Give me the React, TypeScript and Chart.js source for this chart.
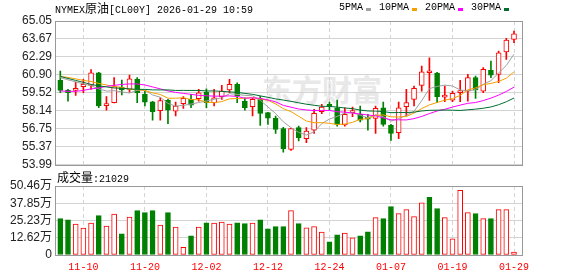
import React, { useEffect, useRef } from "react";
import { Chart, registerables } from "chart.js";

Chart.register(...registerables);

// ---------- data ----------
const dates = [
  "11-05", "11-06", "11-07", "11-10", "11-11", "11-12", "11-13", "11-14", "11-17", "11-18",
  "11-19", "11-20", "11-21", "11-24", "11-25", "11-26", "11-27", "11-28", "12-01", "12-02",
  "12-03", "12-04", "12-05", "12-08", "12-09", "12-10", "12-11", "12-12", "12-15", "12-16",
  "12-17", "12-18", "12-19", "12-22", "12-23", "12-24", "12-26", "12-29", "12-30", "12-31",
  "01-02", "01-05", "01-06", "01-07", "01-08", "01-09", "01-12", "01-13", "01-14", "01-15",
  "01-16", "01-19", "01-20", "01-21", "01-22", "01-23", "01-26", "01-27", "01-28", "01-29",
];

const opens = [
  60.48, 59.71, 59.71, 59.99, 60.10, 61.07, 58.54, 58.77, 59.94, 59.79,
  60.56, 59.41, 58.84, 58.15, 58.94, 58.12, 58.69, 59.02, 59.07, 59.58,
  58.77, 59.23, 59.74, 60.17, 58.89, 58.46, 59.07, 58.00, 57.56, 56.77,
  55.18, 56.85, 56.00, 56.66, 58.08, 58.53, 58.38, 57.05, 58.00, 57.87,
  57.61, 57.56, 58.38, 57.02, 56.46, 58.46, 59.02, 60.10, 61.07, 61.02,
  59.20, 58.97, 59.54, 59.66, 60.69, 59.66, 61.25, 60.94, 62.68, 63.63,
];
const highs = [
  61.19, 59.79, 60.35, 60.56, 61.32, 61.10, 59.23, 60.69, 60.51, 60.89,
  60.69, 59.66, 58.87, 59.15, 59.02, 58.81, 59.23, 59.41, 59.79, 59.84,
  59.79, 60.10, 60.56, 60.30, 59.15, 59.15, 59.27, 58.02, 57.74, 56.87,
  56.80, 56.97, 56.85, 58.25, 58.64, 58.81, 58.97, 58.38, 58.43, 58.51,
  57.87, 58.51, 58.81, 57.10, 58.81, 59.79, 60.04, 61.58, 62.22, 61.10,
  60.04, 59.66, 60.48, 60.94, 60.81, 61.46, 61.96, 62.73, 63.71, 64.27,
];
const lows = [
  59.54, 58.89, 59.33, 59.54, 59.79, 58.38, 58.20, 58.75, 59.36, 59.58,
  58.77, 58.51, 57.43, 57.43, 57.16, 57.74, 58.33, 58.38, 58.89, 58.38,
  58.51, 59.02, 59.54, 58.77, 58.20, 57.74, 57.02, 57.10, 56.41, 54.97,
  55.10, 55.82, 55.70, 56.41, 57.92, 58.20, 56.97, 56.97, 57.69, 57.28,
  56.66, 56.41, 56.97, 55.87, 56.00, 57.74, 58.51, 59.66, 58.94, 58.77,
  58.84, 58.84, 58.84, 58.89, 59.10, 59.54, 60.69, 60.30, 62.09, 63.38,
];
const closes = [
  59.71, 59.54, 59.84, 60.17, 61.07, 58.51, 58.69, 60.00, 59.75, 60.61,
  59.54, 58.81, 58.08, 58.92, 58.20, 58.51, 59.10, 58.58, 59.53, 58.77,
  59.15, 59.66, 60.17, 59.27, 58.38, 59.02, 57.95, 57.58, 56.72, 55.24,
  56.77, 56.08, 56.59, 57.95, 58.43, 58.48, 57.10, 57.87, 58.12, 57.43,
  57.49, 58.33, 57.10, 56.41, 58.38, 58.77, 59.87, 61.15, 61.07, 59.23,
  59.30, 59.48, 59.66, 60.69, 59.74, 61.33, 60.89, 62.61, 63.58, 64.07,
];

// volume in 万
const volumes = [
  26.6, 25.8, 22.6, 19.7, 23.4, 28.8, 21.2, 30.0, 15.5, 27.8,
  32.5, 31.0, 32.5, 21.9, 31.0, 20.4, 5.7, 14.0, 20.4, 23.6,
  23.4, 24.1, 22.6, 23.6, 22.9, 23.4, 25.8, 19.2, 20.7, 20.7,
  32.5, 22.9, 19.9, 20.7, 16.7, 9.6, 14.8, 16.0, 12.6, 14.0,
  17.0, 27.3, 26.6, 35.4, 30.3, 33.2, 28.1, 38.1, 42.1, 34.0,
  27.3, 11.8, 47.3, 31.0, 30.3, 26.6, 26.6, 33.2, 33.2, 2.1,
];

const ma5 = [
  60.71, 60.52, 60.37, 60.21, 60.07, 59.83, 59.66, 59.69, 59.60, 59.51,
  59.72, 59.74, 59.36, 59.19, 58.71, 58.50, 58.56, 58.66, 58.78, 58.90,
  59.03, 59.14, 59.46, 59.40, 59.33, 59.30, 58.96, 58.44, 57.93, 57.30,
  56.85, 56.48, 56.28, 56.53, 57.16, 57.51, 57.71, 57.97, 58.00, 57.80,
  57.60, 57.85, 57.69, 57.35, 57.54, 57.80, 58.11, 58.92, 59.85, 60.02,
  60.12, 60.05, 59.75, 59.67, 59.77, 60.18, 60.46, 61.05, 61.63, 62.50,
];
const ma10 = [
  60.79, 60.71, 60.60, 60.48, 60.40, 60.25, 60.13, 60.02, 59.94, 59.79,
  59.77, 59.70, 59.52, 59.40, 59.11, 59.11, 59.15, 59.01, 58.99, 58.80,
  58.77, 58.85, 59.06, 59.09, 59.11, 59.16, 59.05, 58.95, 58.67, 58.31,
  58.08, 57.72, 57.36, 57.23, 57.23, 57.18, 57.09, 57.12, 57.26, 57.48,
  57.55, 57.78, 57.83, 57.68, 57.67, 57.70, 57.98, 58.31, 58.60, 58.78,
  58.96, 59.08, 59.33, 59.76, 59.90, 60.15, 60.25, 60.40, 60.65, 61.14,
];
const ma20 = [
  59.67, 59.64, 59.64, 59.71, 59.83, 59.90, 60.02, 60.10, 60.17, 60.21,
  60.21, 60.13, 59.98, 59.83, 59.67, 59.56, 59.48, 59.41, 59.33, 59.30,
  59.27, 59.27, 59.29, 59.25, 59.11, 59.14, 59.10, 58.98, 58.83, 58.56,
  58.42, 58.28, 58.21, 58.16, 58.17, 58.17, 58.07, 58.04, 57.97, 57.90,
  57.82, 57.75, 57.60, 57.45, 57.45, 57.44, 57.54, 57.71, 57.93, 58.13,
  58.26, 58.43, 58.58, 58.72, 58.78, 58.93, 59.12, 59.35, 59.63, 59.96,
];
const ma30 = [
  60.79, 60.63, 60.48, 60.33, 60.17, 60.06, 59.98, 59.90, 59.87, 59.83,
  59.79, 59.79, 59.75, 59.75, 59.75, 59.71, 59.71, 59.71, 59.71, 59.67,
  59.67, 59.64, 59.60, 59.56, 59.48, 59.41, 59.29, 59.18, 59.06, 58.97,
  58.87, 58.76, 58.65, 58.57, 58.49, 58.48, 58.43, 58.36, 58.31, 58.20,
  58.13, 58.12, 58.08, 58.00, 58.01, 58.01, 58.04, 58.13, 58.18, 58.19,
  58.20, 58.19, 58.17, 58.22, 58.27, 58.34, 58.44, 58.61, 58.84, 59.13,
];

const priceTicks = [53.99, 55.37, 56.75, 58.14, 59.52, 60.9, 62.29, 63.67, 65.05];
const volumeTicks = [0, 12.62, 25.23, 37.85, 50.46];
const dateTickIndex = [3, 11, 19, 27, 35, 43, 51, 59];
const maLabels = ["5PMA", "10PMA", "20PMA", "30PMA"];
const maColors = ["#a0a0a0", "#f5a000", "#ff00ff", "#006e30"];
const maData = [ma5, ma10, ma20, ma30];

const titleText = { prefix: "NYMEX", cjk: "原油", suffix: "[CL00Y] 2026-01-29 10:59" };
const volumeTitle = { cjk: "成交量", value: ":21029" };

// ---------- styles ----------
const RED = "#ff0000";
const GREEN = "#008000";
const GRID = "#d4d4d4";
const FRAME = "#999999";
const LABEL = "#222222";
const MONO = "'Liberation Mono', 'DejaVu Sans Mono', monospace";
const SANS = "'Liberation Sans', Arial, 'Noto Sans CJK SC', sans-serif";
const CJK = "'Noto Sans CJK SC', sans-serif";

const X_MIN = -0.56;
const X_MAX = 60.04;

const framePlugin = {
  id: "frame",
  beforeDatasetsDraw(chart: any) {
    const { ctx, chartArea } = chart;
    const { left, top, right, bottom } = chartArea;
    ctx.save();
    ctx.strokeStyle = FRAME;
    ctx.lineWidth = 1;
    ctx.setLineDash([]);
    ctx.strokeRect(Math.round(left) - 0.5, Math.round(top) + 0.5, Math.round(right - left) + 1, Math.round(bottom - top));
    ctx.restore();
  },
};

const idx = dates.map((_, i) => i);
const candleUp = idx.map((i) => closes[i] >= opens[i]);
const volumeUp = idx.map((i) =>
  closes[i] !== opens[i] ? closes[i] > opens[i] : closes[i] >= (i > 0 ? closes[i - 1] : opens[i])
);

function xScale(showLabels: boolean) {
  return {
    type: "linear",
    min: X_MIN,
    max: X_MAX,
    offset: false,
    afterBuildTicks: (s: any) => {
      s.ticks = dateTickIndex.map((v) => ({ value: v }));
    },
    afterFit: (s: any) => {
      s.height = showLabels ? 21 : 0;
    },
    ticks: {
      display: showLabels,
      autoSkip: false,
      maxRotation: 0,
      minRotation: 0,
      padding: 6,
      color: RED,
      font: { family: MONO, size: 10 },
      callback: (v: any) => dates[Math.round(Number(v))] ?? "",
    },
    grid: { color: GRID, drawTicks: false, offset: false, lineWidth: 1 },
    border: { display: false, dash: [4, 3] },
  };
}

function yScale(values: number[], format: (v: number) => string) {
  return {
    min: values[0],
    max: values[values.length - 1],
    afterBuildTicks: (s: any) => {
      s.ticks = values.map((v) => ({ value: v }));
    },
    afterFit: (s: any) => {
      s.width = 56;
    },
    ticks: {
      autoSkip: false,
      padding: 4,
      color: LABEL,
      font: { family: SANS, size: 12 },
      callback: (v: any) => format(Number(v)),
    },
    grid: { color: GRID, drawTicks: false },
    border: { display: false },
  };
}

function mainConfig(): any {
  const lineSets = maData.map((arr, k) => ({
    type: "line",
    label: maLabels[k],
    data: arr.map((v, i) => ({ x: i, y: v })),
    borderColor: maColors[k],
    borderWidth: 1,
    pointRadius: 0,
    tension: 0,
    fill: false,
    order: -1 - k,
  }));
  return {
    type: "bar",
    data: {
      datasets: [
        ...lineSets,
        {
          type: "bar",
          label: "body",
          data: idx.map((i) => ({ x: i, y: [opens[i], closes[i]] })),
          backgroundColor: idx.map((i) => (candleUp[i] ? "#ffffff" : GREEN)),
          borderColor: idx.map((i) => (candleUp[i] ? RED : GREEN)),
          borderWidth: 1,
          borderSkipped: false,
          barThickness: 5,
          grouped: false,
          minBarLength: 2,
          order: 1,
        },
        {
          type: "bar",
          label: "wick",
          data: idx.map((i) => ({ x: i, y: [lows[i], highs[i]] })),
          backgroundColor: idx.map((i) => (candleUp[i] ? RED : GREEN)),
          borderWidth: 0,
          barThickness: 1,
          grouped: false,
          order: 2,
        },
      ],
    },
    options: {
      animation: false,
      responsive: false,
      devicePixelRatio: 1,
      events: [],
      layout: { padding: { left: 0, right: 56, top: 21, bottom: 11 } },
      plugins: { legend: { display: false }, tooltip: { enabled: false } },
      scales: {
        x: xScale(false),
        y: yScale(priceTicks, (v) => v.toFixed(2)),
      },
    },
    plugins: [framePlugin],
  };
}

function volumeConfig(): any {
  return {
    type: "bar",
    data: {
      datasets: [
        {
          label: "volume",
          data: idx.map((i) => ({ x: i, y: volumes[i] })),
          backgroundColor: idx.map((i) => (volumeUp[i] ? "#ffffff" : GREEN)),
          borderColor: idx.map((i) => (volumeUp[i] ? RED : GREEN)),
          borderWidth: 1,
          borderSkipped: false,
          barThickness: 5,
          grouped: false,
        },
      ],
    },
    options: {
      animation: false,
      responsive: false,
      devicePixelRatio: 1,
      events: [],
      layout: { padding: { left: 0, right: 56, top: 16, bottom: 0 } },
      plugins: { legend: { display: false }, tooltip: { enabled: false } },
      scales: {
        x: xScale(true),
        y: yScale(volumeTicks, (v) => (v === 0 ? "0" : v.toFixed(2) + "万")),
      },
    },
    plugins: [framePlugin],
  };
}

function Legend() {
  let x = 339;
  const items = maLabels.map((label, k) => {
    const textLeft = x;
    const textWidth = label.length * 6;
    const dashLeft = textLeft + textWidth + 3;
    x = dashLeft + 5 + 8;
    return (
      <React.Fragment key={label}>
        <span
          style={{
            position: "absolute",
            left: textLeft,
            top: 2,
            fontFamily: MONO,
            fontSize: 10,
            lineHeight: "12px",
            color: "#000",
            whiteSpace: "pre",
          }}
        >
          {label}
        </span>
        <span
          style={{
            position: "absolute",
            left: dashLeft,
            top: 8,
            width: 5,
            height: 3,
            background: maColors[k],
          }}
        />
      </React.Fragment>
    );
  });
  return <>{items}</>;
}

export default function App() {
  const mainRef = useRef<HTMLCanvasElement>(null);
  const volRef = useRef<HTMLCanvasElement>(null);

  useEffect(() => {
    const main = new Chart(mainRef.current as HTMLCanvasElement, mainConfig());
    const vol = new Chart(volRef.current as HTMLCanvasElement, volumeConfig());
    return () => {
      main.destroy();
      vol.destroy();
    };
  }, []);

  return (
    <div
      style={{
        position: "absolute",
        left: 0,
        top: 0,
        width: 578,
        height: 276,
        background: "#ffffff",
        overflow: "hidden",
      }}
    >
      <div
        style={{
          position: "absolute",
          left: 262,
          top: 71,
          fontFamily: CJK,
          fontWeight: 700,
          fontSize: 30,
          lineHeight: "34px",
          color: "#e8e8e8",
          letterSpacing: 0,
          whiteSpace: "pre",
        }}
      >
        东方财富
      </div>
      <canvas
        ref={mainRef}
        width={578}
        height={176}
        style={{ position: "absolute", left: 0, top: 0, width: 578, height: 176 }}
      />
      <canvas
        ref={volRef}
        width={578}
        height={106}
        style={{ position: "absolute", left: 0, top: 170, width: 578, height: 106 }}
      />
      <div
        style={{
          position: "absolute",
          left: 55,
          top: 2,
          fontFamily: MONO,
          fontSize: 10,
          lineHeight: "12px",
          color: "#000",
          whiteSpace: "pre",
        }}
      >
        {titleText.prefix}
        <span style={{ fontFamily: CJK, fontSize: 12 }}>{titleText.cjk}</span>
        {titleText.suffix}
      </div>
      <Legend />
      <div
        style={{
          position: "absolute",
          left: 57,
          top: 170,
          fontFamily: MONO,
          fontSize: 10,
          lineHeight: "14px",
          color: "#000",
          whiteSpace: "pre",
        }}
      >
        <span style={{ fontFamily: CJK, fontSize: 12 }}>{volumeTitle.cjk}</span>
        {volumeTitle.value}
      </div>
    </div>
  );
}
